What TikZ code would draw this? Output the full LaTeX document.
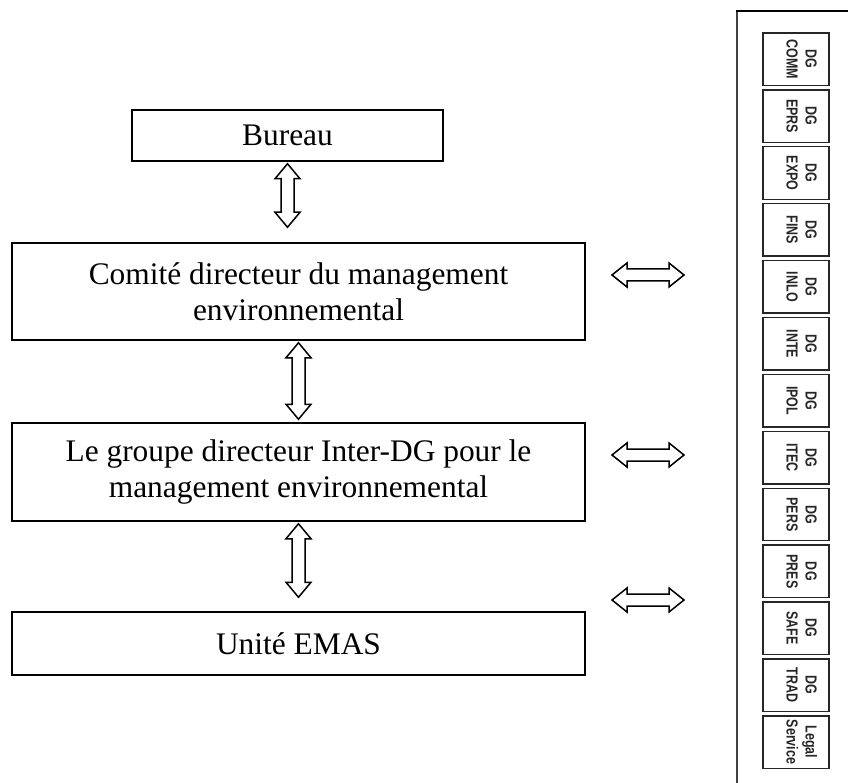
\documentclass[tikz,border=0pt]{standalone}
\usepackage{fontspec}
\setmainfont{Liberation Serif}
\newfontfamily\smallsans{Liberation Sans}
\usetikzlibrary{calc}
\newcommand\vdarrow[2]{%
  \draw[blockarrow] (#1) -- ++(12.5,15) -- ++(-6,0) -- ($(#2)+(6.5,-15)$) -- ++(6,0) -- (#2)
    -- ++(-12.5,-15) -- ++(6,0) -- ($(#1)+(-6.5,15)$) -- ++(-6,0) -- cycle;}
\newcommand\hdarrow[2]{%
  \draw[blockarrow] (#1) -- ++(15,-12) -- ++(0,6) -- ($(#2)+(-15,-6)$) -- ++(0,-6) -- (#2)
    -- ++(-15,12) -- ++(0,-6) -- ($(#1)+(15,6)$) -- ++(0,6) -- cycle;}
\begin{document}
\begin{tikzpicture}[x=1pt,y=-1pt,
  mainbox/.style={draw, line width=1.5pt, inner sep=0pt, align=center,
    font=\fontsize{31.4}{36}\selectfont},
  dgbox/.style={draw=black!85, line width=1.4pt, minimum width=66pt,
    minimum height=52.5pt, inner sep=0pt},
  dglabel/.style={rotate=-90, inner sep=0pt, text=black!85,
    font=\smallsans\bfseries\fontsize{16}{20}\selectfont},
  blockarrow/.style={draw, line width=1.5pt, line join=miter, fill=white}]
\useasboundingbox (0,0) rectangle (848,783);

% main column
\node[mainbox, minimum width=311pt, minimum height=51pt] (bureau) at (287.5,135.5) {Bureau};
\node[mainbox, minimum width=573pt, minimum height=97pt] (comite) at (298.5,291.5)
  {Comité directeur du management\\environnemental};
\node[mainbox, minimum width=573pt, minimum height=98pt] (groupe) at (298.5,472)
  {Le groupe directeur Inter-DG pour le\\management environnemental};
\node[mainbox, minimum width=573pt, minimum height=63pt] (unite) at (298.5,643.5) {Unité EMAS};

% vertical block arrows
\path ($(bureau.south)+(0,2)$) coordinate (v1t)
      ($(bureau.south |- comite.north)+(0,-15)$) coordinate (v1b)
      ($(comite.south)+(0,2)$) coordinate (v2t)
      ($(groupe.north)+(0,-3)$) coordinate (v2b)
      ($(groupe.south)+(0,2)$) coordinate (v3t)
      ($(unite.north)+(0,-14)$) coordinate (v3b);
\vdarrow{v1t}{v1b}
\vdarrow{v2t}{v2b}
\vdarrow{v3t}{v3b}

% horizontal block arrows
\coordinate (h1l) at (612,275); \coordinate (h1r) at (684,275);
\coordinate (h2l) at (612,455); \coordinate (h2r) at (684,455);
\coordinate (h3l) at (612,600); \coordinate (h3r) at (684,600);
\hdarrow{h1l}{h1r}
\hdarrow{h2l}{h2r}
\hdarrow{h3l}{h3r}

% right panel frame
\draw[black!75, line width=1.3pt] (737,783) -- (737,11);
\draw[black, line width=1.8pt] (736.4,11) -- (848,11);

% DG boxes
\foreach \i/\a/\b in {0/DG/COMM, 1/DG/EPRS, 2/DG/EXPO, 3/DG/FINS, 4/DG/INLO,
  5/DG/INTE, 6/DG/IPOL, 7/DG/ITEC, 8/DG/PERS, 9/DG/PRES, 10/DG/SAFE,
  11/DG/TRAD, 12/Legal/Service} {
  \node[dgbox] (dg\i) at (796, {59.25+56.9*\i}) {};
  \node[dglabel] (dgl\i) at ($(dg\i.center)+(4,0)$)
    {\scalebox{0.78}[1]{\begin{tabular}{@{}c@{}}\a\\[-1pt]\b\end{tabular}}};
}
\end{tikzpicture}
\end{document}
